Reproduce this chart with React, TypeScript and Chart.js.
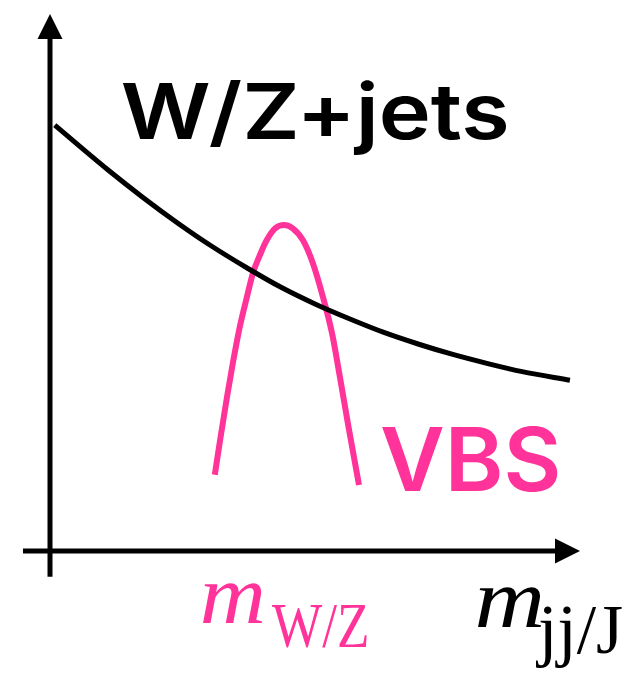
import React, { useEffect, useRef } from "react";
import { Chart, registerables } from "chart.js";

Chart.register(...registerables);

// Falling W/Z+jets background in m_jj/J (arbitrary units, axes run 0..10)
const bkgX = [0.09, 1.09, 1.76, 2.42, 3.06, 3.72, 4.36, 5.0, 5.66, 6.3, 6.96, 7.6, 8.26, 8.91, 9.81];
const bkgY = [7.93, 7.1, 6.58, 6.1, 5.67, 5.27, 4.91, 4.6, 4.32, 4.07, 3.85, 3.66, 3.49, 3.34, 3.18];

// VBS signal peaking at the W/Z mass
const vbsX = [3.11, 3.21, 3.34, 3.45, 3.58, 3.72, 3.83, 3.96, 4.09, 4.25, 4.42, 4.58, 4.77, 4.96, 5.15, 5.32, 5.47, 5.62, 5.83];
const vbsY = [1.42, 2.07, 2.87, 3.5, 4.17, 4.75, 5.18, 5.51, 5.79, 6.01, 6.07, 6.01, 5.79, 5.36, 4.73, 4.06, 3.24, 2.38, 1.23];

const PINK = "#ff3399";
const SANS = 'Inter, "Liberation Sans", Arial, sans-serif';
const SERIF = '"Liberation Serif", "Times New Roman", serif';

const toPoints = (xs: number[], ys: number[]) => xs.map((x, i) => ({ x, y: ys[i] }));

// Draw text so that its ink spans [left, right] with the given baseline.
function drawInk(
  ctx: CanvasRenderingContext2D,
  text: string,
  font: string,
  color: string,
  left: number,
  right: number,
  baseline: number
) {
  ctx.save();
  ctx.font = font;
  ctx.textAlign = "left";
  ctx.textBaseline = "alphabetic";
  const m = ctx.measureText(text);
  const ink = m.actualBoundingBoxLeft + m.actualBoundingBoxRight;
  const sx = ink > 0 ? (right - left) / ink : 1;
  ctx.translate(left, baseline);
  ctx.scale(sx, 1);
  ctx.fillStyle = color;
  ctx.fillText(text, m.actualBoundingBoxLeft, 0);
  ctx.restore();
}

const axesPlugin = {
  id: "arrowAxes",
  beforeDatasetsDraw(chart: any) {
    const { ctx, scales } = chart;
    const xs = scales.x;
    const ys = scales.y;
    const ox = xs.getPixelForValue(0);
    const oy = ys.getPixelForValue(0);
    const xTip = xs.getPixelForValue(10);
    const yTip = ys.getPixelForValue(10);
    const head = 25;
    const half = 12.5;
    ctx.save();
    ctx.strokeStyle = "#000";
    ctx.fillStyle = "#000";
    ctx.lineWidth = 5;
    ctx.lineCap = "butt";
    // vertical axis
    ctx.beginPath();
    ctx.moveTo(ox, ys.getPixelForValue(-0.48));
    ctx.lineTo(ox, yTip + head - 1);
    ctx.stroke();
    ctx.beginPath();
    ctx.moveTo(ox, yTip);
    ctx.lineTo(ox - half, yTip + head);
    ctx.lineTo(ox + half, yTip + head);
    ctx.closePath();
    ctx.fill();
    // horizontal axis
    ctx.beginPath();
    ctx.moveTo(xs.getPixelForValue(-0.51), oy);
    ctx.lineTo(xTip - head + 1, oy);
    ctx.stroke();
    ctx.beginPath();
    ctx.moveTo(xTip, oy);
    ctx.lineTo(xTip - head, oy - half);
    ctx.lineTo(xTip - head, oy + half);
    ctx.closePath();
    ctx.fill();
    ctx.restore();
  },
  afterDatasetsDraw(chart: any) {
    const ctx = chart.ctx as CanvasRenderingContext2D;
    drawInk(ctx, "W/Z+jets", `600 77px ${SANS}`, "#000", 122, 507, 139);
    drawInk(ctx, "VBS", `600 88px ${SANS}`, PINK, 382, 558, 491);
    drawInk(ctx, "m", `italic 84px ${SERIF}`, PINK, 203, 263, 623);
    drawInk(ctx, "W/Z", `64px ${SERIF}`, PINK, 272, 367, 647);
    drawInk(ctx, "m", `italic 84px ${SERIF}`, "#000", 478, 542, 627);
    drawInk(ctx, "jj/J", `70px ${SERIF}`, "#000", 535, 622, 653);
  },
};

export default function App() {
  const canvasRef = useRef<HTMLCanvasElement | null>(null);

  useEffect(() => {
    const canvas = canvasRef.current;
    if (!canvas) return;
    const chart = new Chart(canvas, {
      type: "line",
      data: {
        datasets: [
          {
            label: "W/Z+jets",
            data: toPoints(bkgX, bkgY),
            borderColor: "#000",
            borderWidth: 5,
            pointRadius: 0,
            cubicInterpolationMode: "monotone",
            fill: false,
          },
          {
            label: "VBS",
            data: toPoints(vbsX, vbsY),
            borderColor: PINK,
            borderWidth: 6,
            pointRadius: 0,
            cubicInterpolationMode: "monotone",
            fill: false,
          },
        ],
      },
      options: {
        animation: false,
        responsive: false,
        devicePixelRatio: 1,
        events: [],
        layout: { padding: { left: 50, right: 62, top: 14, bottom: 125 } },
        scales: {
          x: { type: "linear", min: 0, max: 10, display: false },
          y: { type: "linear", min: 0, max: 10, display: false },
        },
        plugins: {
          legend: { display: false },
          tooltip: { enabled: false },
        },
      },
      plugins: [axesPlugin],
    } as any);
    return () => chart.destroy();
  }, []);

  return (
    <div style={{ position: "fixed", left: 0, top: 0, width: 642, height: 676, background: "#fff" }}>
      <canvas ref={canvasRef} width={642} height={676} style={{ display: "block" }} />
    </div>
  );
}
